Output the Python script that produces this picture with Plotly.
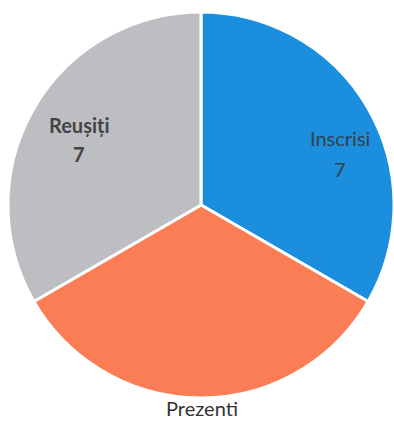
import plotly.graph_objects as go

# Participation summary
categories = ["Inscrisi", "Prezenti", "Reușiți"]
values = [7, 7, 7]
colors = ["#1b8fde", "#fb7d55", "#bdbec2"]

W, H = 394, 423

fig = go.Figure(
    go.Pie(
        labels=categories,
        values=values,
        sort=False,
        direction="clockwise",
        rotation=0,
        marker=dict(colors=colors, line=dict(color="white", width=3)),
        textinfo="none",
        hoverinfo="label+value",
        domain=dict(x=[8 / W, 1.0], y=[24 / H, 412 / H]),
        showlegend=False,
    )
)

# label positions (pixels from the top-left corner) and styles per slice
label_pos = [(340, 138, 169), (202, 408, None), (79, 125, 154)]
label_bold = [False, False, True]
label_color = ["#34404c", "#333333", "#444444"]

for name, val, (x, y_name, y_val), bold, col in zip(
    categories, values, label_pos, label_bold, label_color
):
    txt = f"<b>{name}</b>" if bold else name
    fig.add_annotation(
        x=x / W, y=1 - y_name / H, xref="paper", yref="paper",
        text=txt, showarrow=False,
        font=dict(family="Lato", size=20, color=col),
        xanchor="center", yanchor="middle",
    )
    if y_val is not None:
        vtxt = f"<b>{val}</b>" if bold else str(val)
        fig.add_annotation(
            x=x / W, y=1 - y_val / H, xref="paper", yref="paper",
            text=vtxt, showarrow=False,
            font=dict(family="Lato", size=20, color=col),
            xanchor="center", yanchor="middle",
        )

fig.update_layout(
    width=W, height=H,
    margin=dict(l=0, r=0, t=0, b=0),
    paper_bgcolor="white",
    plot_bgcolor="white",
)

fig.write_html("out.html")
